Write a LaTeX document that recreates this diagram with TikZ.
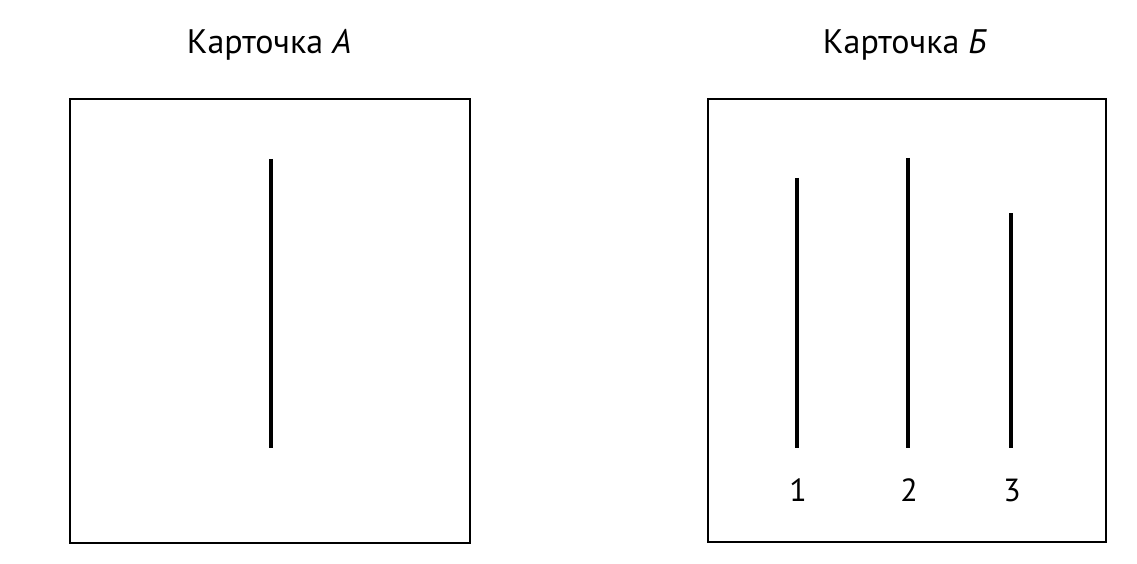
\documentclass[tikz,border=0pt]{standalone}
\usepackage{fontspec}
\setmainfont{PT Sans}

\begin{document}
\begin{tikzpicture}[
    x=1pt, y=-1pt,
    card/.style={draw, line width=1.6pt},
    bar/.style={line width=3.2pt},
    title/.style={font=\fontsize{34}{38}\selectfont, inner sep=0pt},
    num/.style={font=\fontsize{32}{36}\selectfont, inner sep=0pt},
  ]
    \useasboundingbox (0,0) rectangle (1137,564);

    % === Card A: one reference line ===
    \node[title] (titleA) at (269,45) {Карточка \textit{А}};
    \draw[card] (70,99) rectangle (470,543);
    \coordinate (topA) at (271,159);
    \coordinate (botA) at (271,448);
    \draw[bar] (topA) -- (botA);

    % === Card B: three lines to compare ===
    \node[title] (titleB) at (905,45) {Карточка \textit{Б}};
    \draw[card] (708,99) rectangle (1106,542);
    \foreach \i/\x/\t in {1/797/178, 2/908/158, 3/1011/213} {
      \coordinate (top\i) at (\x,\t);
      \coordinate (bot\i) at (\x,448);
      \draw[bar] (top\i) -- (bot\i);
      \node[num] (num\i) at (\x+1,490) {\i};
    }
  \end{tikzpicture}
\end{document}
